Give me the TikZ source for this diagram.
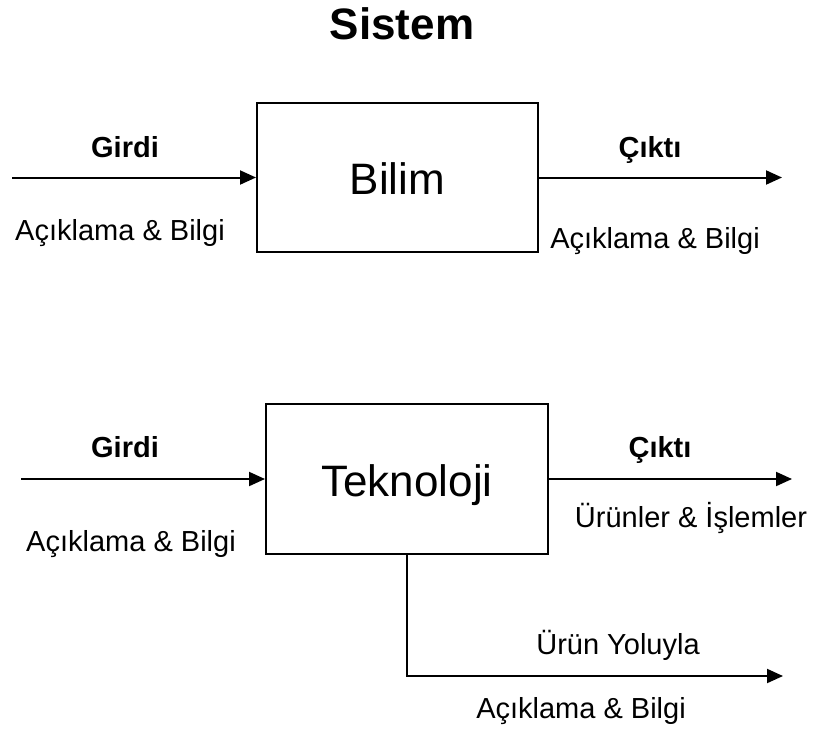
\documentclass[tikz,border=0pt]{standalone}
\usepackage{fontspec}
\setmainfont{Liberation Sans}
\usetikzlibrary{arrows.meta}
\begin{document}
\begin{tikzpicture}[x=1pt,y=-1pt,
  flow/.style={line width=2pt,-{Triangle[length=16pt,width=14pt]}},
  sysbox/.style={draw,line width=2pt,inner sep=0pt,text height=34pt,text depth=0pt,
    font=\fontsize{44}{50}\selectfont},
  lbl/.style={anchor=base,inner sep=0pt,font=\fontsize{29}{34}\selectfont},
  blbl/.style={lbl,font=\fontsize{29}{34}\selectfont\bfseries},
  ttl/.style={anchor=base,inner sep=0pt,font=\fontsize{44}{50}\selectfont\bfseries}]
\useasboundingbox (0,0) rectangle (818,731);

% title
\node[ttl] (title) at (402,39) {Sistem};

% science block
\node[sysbox,minimum width=281pt,minimum height=149pt] (bilim) at (397.5,177.5) {Bilim};
\coordinate (bin) at (12,177.5);
\coordinate (bout) at (782,177.5);
\draw[flow] (bin) -- (bilim.west);
\draw[flow] (bilim.east) -- (bout);
\node[blbl] (bgirdi) at (125,157) {Girdi};
\node[lbl] (bgirdiA) at (120,240) {Açıklama \& Bilgi};
\node[blbl] (bcikti) at (650,157) {Çıktı};
\node[lbl] (bciktiA) at (655,248) {Açıklama \& Bilgi};

% technology block
\node[sysbox,minimum width=282pt,minimum height=150pt] (tek) at (407,479) {Teknoloji};
\coordinate (tin) at (21,479);
\coordinate (tout) at (792,479);
\coordinate (tside) at (783,676);
\draw[flow] (tin) -- (tek.west);
\draw[flow] (tek.east) -- (tout);
\draw[flow] (tek.south) |- (tside);
\node[blbl] (tgirdi) at (125,457) {Girdi};
\node[lbl] (tgirdiA) at (131,551) {Açıklama \& Bilgi};
\node[blbl] (tcikti) at (660,457) {Çıktı};
\node[lbl] (tciktiA) at (691,527) {Ürünler \& İşlemler};
\node[lbl] (tyol) at (618,654) {Ürün Yoluyla};
\node[lbl] (tyolA) at (581,718) {Açıklama \& Bilgi};
\end{tikzpicture}
\end{document}
